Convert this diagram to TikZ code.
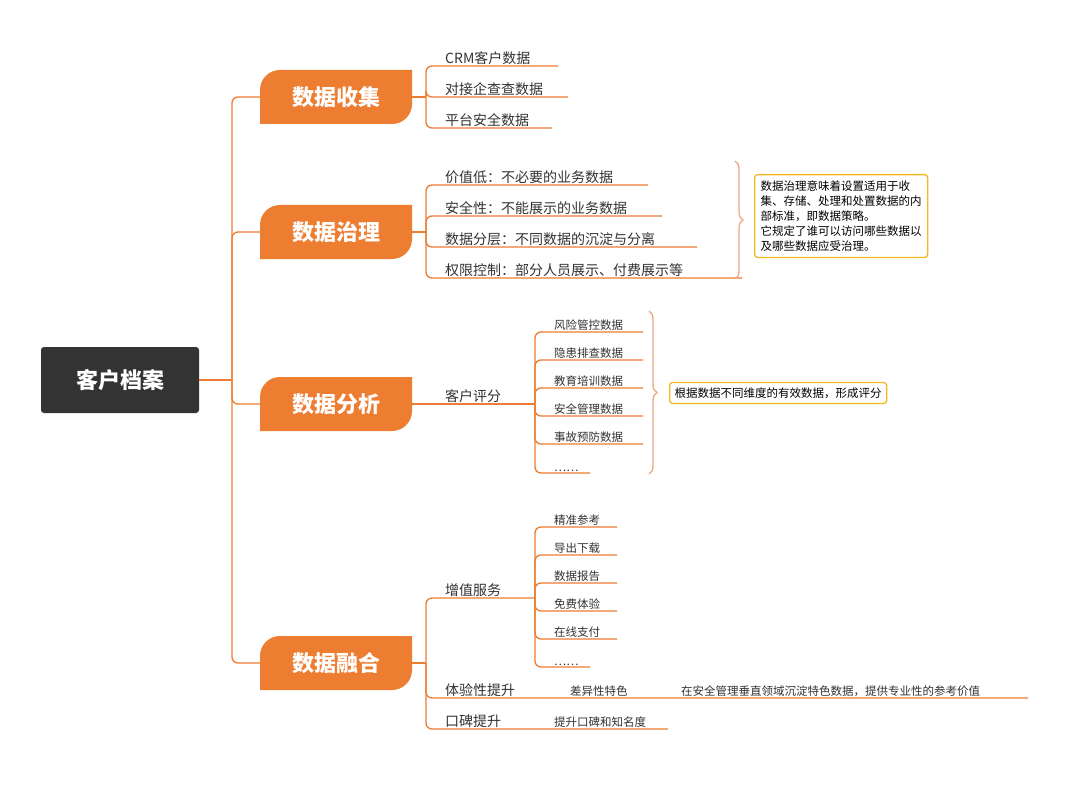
\documentclass[tikz,border=0pt]{standalone}
\usepackage{fontspec}
\setmainfont{Noto Sans CJK SC}
\usetikzlibrary{decorations.pathreplacing}
\definecolor{org}{HTML}{ED7D31}
\definecolor{dark}{HTML}{333333}
\definecolor{brc}{HTML}{F2A383}
\definecolor{yel}{HTML}{F5B820}
\begin{document}
\begin{tikzpicture}[x=1pt,y=-1pt,
  conn/.style={draw=org,line width=1.3pt,rounded corners=6pt},
  title/.style={text=white,font=\fontsize{22}{24}\selectfont\bfseries,inner sep=0},
  leaf/.style={anchor=south west,text=dark,font=\fontsize{14}{16}\selectfont,inner sep=1pt},
  sleaf/.style={anchor=south west,text=dark,font=\fontsize{11.5}{13}\selectfont,inner sep=1pt},
  bracestyle/.style={draw=brc,line width=1.3pt,decorate,decoration={brace,amplitude=8pt}},
  note/.style={draw=yel,line width=1.3pt,rounded corners=3pt,fill=white,text=black,font=\fontsize{11.5}{15}\selectfont,align=left,anchor=north west,inner sep=6pt}]
\useasboundingbox (0,0) rectangle (1067,794);
\fill[white] (0,0) rectangle (1067,794);
% root
\node[fill=dark,rounded corners=3pt,minimum width=158pt,minimum height=66pt,text=white,font=\fontsize{22}{24}\selectfont\bfseries] (root) at (120,380) {客户档案};
\coordinate (trunk) at (232,380);
% branches
\newcommand\branchbox[3]{%
  \fill[org] (260,#2+27) -- (260,#2-7) to[out=90,in=180] (280,#2-27) -- (412,#2-27) -- (412,#2+7) to[out=-90,in=0] (392,#2+27) -- cycle;
  \node[title] (#1) at (336,#2) {#3};
  \coordinate (#1r) at (412,#2);}
\branchbox{b1}{97}{数据收集}
\branchbox{b2}{232}{数据治理}
\branchbox{b3}{404}{数据分析}
\branchbox{b4}{663}{数据融合}
\draw[conn] (root.east) -- (trunk);
\foreach \b/\y in {b1/97,b2/232,b3/404,b4/663}{
  \coordinate (\b l) at (260,\y);
  \draw[conn] (trunk) |- (\b l);}
% branch 1 leaves
\coordinate (h1) at (426,97);
\draw[conn] (b1r) -- (h1);
\foreach \n/\y/\e/\t in {a/66/558/CRM客户数据,b/97/568/对接企查查数据,c/128/552/平台安全数据}{
  \coordinate (e1\n) at (\e,\y);
  \draw[conn] (h1) |- (e1\n);
  \node[leaf] (t1\n) at (444,\y) {\t};}
% branch 2 leaves
\coordinate (h2) at (426,232);
\draw[conn] (b2r) -- (h2);
\foreach \n/\y/\e/\t in {a/185/648/价值低：不必要的业务数据,b/216/662/安全性：不能展示的业务数据,c/247/697/数据分层：不同数据的沉淀与分离,d/278/742/权限控制：部分人员展示、付费展示等}{
  \coordinate (e2\n) at (\e,\y);
  \draw[conn] (h2) |- (e2\n);
  \node[leaf] (t2\n) at (444,\y) {\t};}
\coordinate (br2a) at (735,161);
\coordinate (br2b) at (735,279);
\draw[bracestyle] (br2a) -- (br2b);
\node[note] (n2) at (754,174) {数据治理意味着设置适用于收\\集、存储、处理和处置数据的内\\部标准，即数据策略。\\它规定了谁可以访问哪些数据以\\及哪些数据应受治理。};
% branch 3
\coordinate (h3) at (535,404);
\draw[conn] (b3r) -- (h3);
\node[leaf] (t3) at (444,404) {客户评分};
\foreach \n/\y/\e/\t in {a/332/643/风险管控数据,b/360/643/隐患排查数据,c/388/643/教育培训数据,d/416/643/安全管理数据,e/444/643/事故预防数据,f/473/590/……}{
  \coordinate (e3\n) at (\e,\y);
  \draw[conn] (h3) |- (e3\n);
  \node[sleaf] (t3\n) at (553,\y) {\t};}
\coordinate (br3a) at (649,311);
\coordinate (br3b) at (649,474);
\draw[bracestyle] (br3a) -- (br3b);
\node[note,anchor=west,inner sep=5pt] (n3) at (669,393) {根据数据不同维度的有效数据，形成评分};
% branch 4
\coordinate (h4) at (426,663);
\draw[conn] (b4r) -- (h4);
\coordinate (e4a) at (535,598);
\coordinate (e4b) at (1028,698);
\coordinate (e4c) at (668,729);
\draw[conn] (h4) |- (e4a);
\draw[conn] (h4) |- (e4b);
\draw[conn] (h4) |- (e4c);
\node[leaf] (t4a) at (444,598) {增值服务};
\node[leaf] (t4b) at (444,698) {体验性提升};
\node[leaf] (t4c) at (444,729) {口碑提升};
\node[sleaf] (t4b1) at (569,698) {差异性特色};
\node[sleaf] (t4b2) at (680,698) {在安全管理垂直领域沉淀特色数据，提供专业性的参考价值};
\node[sleaf] (t4c1) at (553,729) {提升口碑和知名度};
\foreach \n/\y/\e/\t in {a/527/617/精准参考,b/555/617/导出下载,c/583/617/数据报告,d/611/617/免费体验,e/639/617/在线支付,f/667/590/……}{
  \coordinate (e5\n) at (\e,\y);
  \draw[conn] (e4a) |- (e5\n);
  \node[sleaf] (t5\n) at (553,\y) {\t};}
\end{tikzpicture}
\end{document}
